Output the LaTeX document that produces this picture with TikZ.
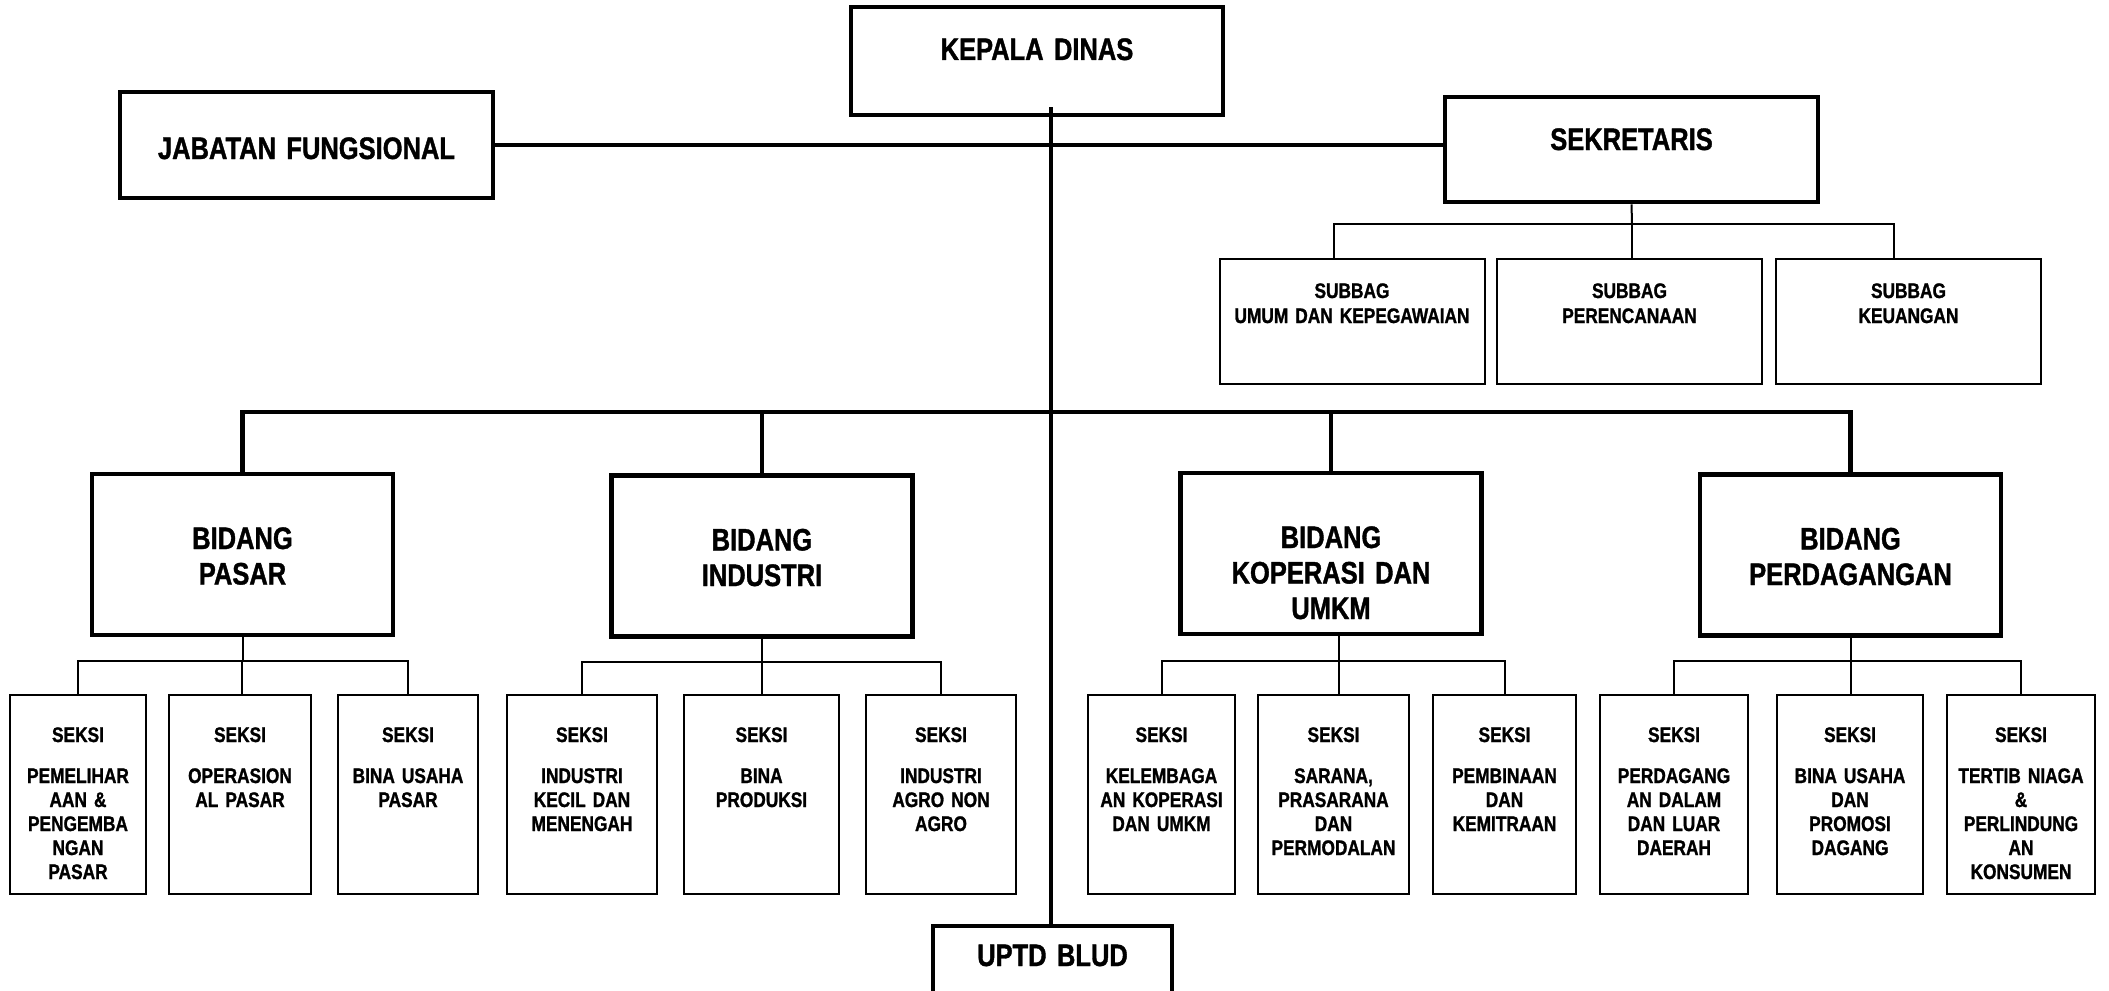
\documentclass[tikz,border=0pt]{standalone}
\usepackage{fontspec}
\setmainfont{Liberation Sans}[FakeStretch=0.82, BoldFeatures={FakeBold=1.2}]

\begin{document}
\begin{tikzpicture}[
        x=0.2mm, y=-0.2mm,
        head/.style = {draw, line width=0.92mm, inner sep=0pt, align=center,
            font=\fontsize{17.7pt}{7.1mm}\selectfont\bfseries},
        bid/.style = {head, text width=60.2mm, text height=15mm, text depth=17.2mm},
        sub/.style = {draw, line width=0.4mm, inner sep=0pt, align=center,
            font=\fontsize{12pt}{5mm}\selectfont\bfseries,
            text width=53mm, text height=7.8mm, text depth=17.2mm},
        sek/.style = {draw, line width=0.4mm, inner sep=0pt, align=center,
            font=\fontsize{12pt}{4.8mm}\selectfont\bfseries,
            text width=#1, text height=9.4mm, text depth=30.4mm},
        e/.style = {line width=0.92mm},
        es/.style = {line width=0.4mm}
    ]
    \path[use as bounding box] (0,0) rectangle (2109,990);
    \clip (0,0) rectangle (2109,990);
    %--- Draw Top Boxes ---%
        \node (kd) [head, text width=74.4mm, text height=10.6mm, text depth=11mm] at (1037,61) {KEPALA DINAS};
        \node (jf) [head, text width=74.6mm, text height=13.4mm, text depth=7.8mm] at (306.5,145) {JABATAN FUNGSIONAL};
        \node (sk) [head, text width=74.6mm, text height=10.6mm, text depth=10.4mm] at (1631.5,149.5) {SEKRETARIS};
        \node (ud) [head, text width=47.8mm, text height=8mm, text depth=8.8mm] at (1052.5,968) {UPTD BLUD};
        %--- Draw Subbag ---%
        \node (sb1) [sub] at (1352,321.5) {SUBBAG\\UMUM DAN KEPEGAWAIAN};
        \node (sb2) [sub] at (1629.5,321.5) {SUBBAG\\PERENCANAAN};
        \node (sb3) [sub] at (1908.5,321.5) {SUBBAG\\KEUANGAN};
        %--- Draw Bidang ---%
        \node (bp) [bid] at (242.5,554.5) {BIDANG\\PASAR};
        \node (bi) [bid] at (762,556) {BIDANG\\INDUSTRI};
        \node (bk) [bid] at (1331,553.5) {BIDANG\\KOPERASI DAN\\UMKM};
        \node (bg) [bid] at (1850.5,555) {BIDANG\\PERDAGANGAN};
        %--- Draw Seksi ---%
        \node (ps1) [sek=27.1mm] at (78,794.5) {SEKSI\\[3.4mm]PEMELIHAR\\AAN \&\\PENGEMBA\\NGAN\\PASAR};
        \node (ps2) [sek=28.5mm] at (240,794.5) {SEKSI\\[3.4mm]OPERASION\\AL PASAR};
        \node (ps3) [sek=28mm] at (408,794.5) {SEKSI\\[3.4mm]BINA USAHA\\PASAR};
        \node (is1) [sek=30.1mm] at (582,794.5) {SEKSI\\[3.4mm]INDUSTRI\\KECIL DAN\\MENENGAH};
        \node (is2) [sek=31mm] at (761.5,794.5) {SEKSI\\[3.4mm]BINA\\PRODUKSI};
        \node (is3) [sek=30.1mm] at (941,794.5) {SEKSI\\[3.4mm]INDUSTRI\\AGRO NON\\AGRO};
        \node (ks1) [sek=29.4mm] at (1161.5,794.5) {SEKSI\\[3.4mm]KELEMBAGA\\AN KOPERASI\\DAN UMKM};
        \node (ks2) [sek=30.2mm] at (1333.5,794.5) {SEKSI\\[3.4mm]SARANA,\\PRASARANA\\DAN\\PERMODALAN};
        \node (ks3) [sek=28.6mm] at (1504.5,794.5) {SEKSI\\[3.4mm]PEMBINAAN\\DAN\\KEMITRAAN};
        \node (gs1) [sek=29.6mm] at (1674,794.5) {SEKSI\\[3.4mm]PERDAGANG\\AN DALAM\\DAN LUAR\\DAERAH};
        \node (gs2) [sek=29.2mm] at (1850,794.5) {SEKSI\\[3.4mm]BINA USAHA\\DAN\\PROMOSI\\DAGANG};
        \node (gs3) [sek=29.6mm] at (2021,794.5) {SEKSI\\[3.4mm]TERTIB NIAGA\\\&\\PERLINDUNG\\AN\\KONSUMEN};
        %--- Draw Main Lines ---%
        \coordinate (bus) at (1051,412);
        \draw[e] ([yshift=2mm]kd.south -| bus) -- (ud.north -| bus);
        \draw[e] (jf.east) -- (jf.east -| sk.west);
        \draw[e] (bp.north) |- (bus) -| (bg.north);
        \draw[e] (bi.north) -- (bi.north |- bus);
        \draw[e] (bk.north) -- (bk.north |- bus);
        %--- Draw Subbag Lines ---%
        \coordinate (sbus) at (1632,224);
        \draw[es] (sk.south) -- (sbus);
        \draw[es] ([xshift=-3.6mm]sb1.north) |- (sbus) -| ([xshift=-2.9mm]sb3.north);
        \draw[es] (sbus) -- (sbus |- sb2.north);
        %--- Draw Seksi Lines ---%
        \coordinate (pbus) at (242,661);
        \draw[es] (bp.south) -- (bp.south |- pbus);
        \draw[es] (ps1.north) |- (pbus) -| (ps3.north);
        \draw[es] (pbus) -- (pbus |- ps2.north);
        \coordinate (ibus) at (762,662);
        \draw[es] (bi.south) -- (ibus);
        \draw[es] (is1.north) |- (ibus) -| (is3.north);
        \draw[es] (ibus) -- (ibus |- is2.north);
        \coordinate (kbus) at (1339,661);
        \draw[es] (kbus |- bk.south) -- (kbus);
        \draw[es] (ks1.north) |- (kbus) -| (ks3.north);
        \draw[es] (kbus) -- (kbus |- ks2.north);
        \coordinate (gbus) at (1851,661);
        \draw[es] (bg.south) -- (bg.south |- gbus);
        \draw[es] (gs1.north) |- (gbus) -| (gs3.north);
        \draw[es] (gbus) -- (gbus |- gs2.north);
    \end{tikzpicture}
\end{document}
